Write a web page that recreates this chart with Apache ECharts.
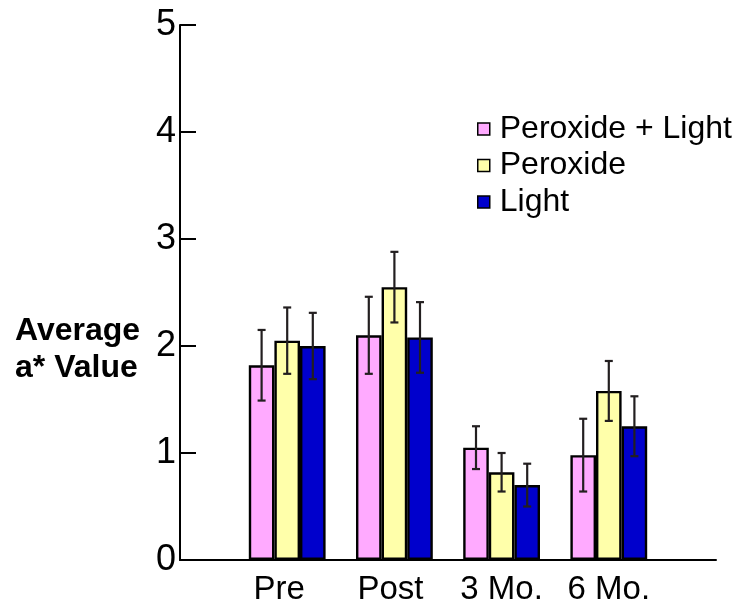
<!DOCTYPE html>
<html>
<head>
<meta charset="utf-8">
<script src="https://cdn.jsdelivr.net/npm/echarts@6/dist/echarts.min.js"></script>
<style>
  html, body { margin: 0; padding: 0; background: #fff; }
  #chart { width: 744px; height: 606px; }
</style>
</head>
<body>
<div id="chart"></div>
<script>
// Time points
const categories = ['Pre', 'Post', '3 Mo.', '6 Mo.'];
// Treatment groups
const seriesNames = ['Peroxide + Light', 'Peroxide', 'Light'];
// Mean a* values per time point
const peroxideLight = [1.82, 2.10, 1.05, 0.98];
const peroxide = [2.05, 2.55, 0.82, 1.58];
const light = [2.00, 2.08, 0.70, 1.25];
// Error (± half range) per time point
const peroxideLightErr = [0.33, 0.36, 0.20, 0.34];
const peroxideErr = [0.31, 0.33, 0.18, 0.28];
const lightErr = [0.31, 0.33, 0.20, 0.28];
// Y axis ticks
const yTicks = [0, 1, 2, 3, 4, 5];

const FONT = "'Liberation Sans', Arial, sans-serif";
const BAR_W = 25.6;
const colors = ['#ffaaff', '#ffffaa', '#0000cc'];
const means = [peroxideLight, peroxide, light];
const errs = [peroxideLightErr, peroxideErr, lightErr];

// Category axis padded with an empty slot on each side so groups sit on interior points
const axisData = [''].concat(categories, ['']);
const pad = arr => [null].concat(arr, [null]);

// Small leftward nudges for the first two category labels
const labelNudge = { 'Pre': 16, 'Post': 8 };
const labelRich = {};
categories.forEach((c, i) => {
  labelRich['c' + i] = { fontFamily: FONT, fontSize: 33, color: '#000', padding: [0, labelNudge[c] || 0, 0, 0] };
});

const barSeries = seriesNames.map((name, k) => ({
  name: name,
  type: 'bar',
  data: pad(means[k]),
  barWidth: BAR_W,
  barGap: '0%',
  itemStyle: { color: colors[k], borderColor: '#000', borderWidth: 2.4 },
  z: 2
}));

const errSeries = seriesNames.map((name, k) => ({
  name: name + ' error',
  type: 'custom',
  z: 5,
  data: means[k].map((v, i) => [i + 1, v, errs[k][i]]),
  renderItem: function (params, api) {
    const x = api.value(0), v = api.value(1), e = api.value(2);
    const hi = api.coord([x, v + e]);
    const lo = api.coord([x, v - e]);
    const cx = hi[0] + (k - 1) * BAR_W;
    const cap = 4;
    const style = { stroke: '#231f20', lineWidth: 2.2 };
    return {
      type: 'group',
      children: [
        { type: 'line', shape: { x1: cx, y1: hi[1], x2: cx, y2: lo[1] }, style: style },
        { type: 'line', shape: { x1: cx - cap, y1: hi[1], x2: cx + cap, y2: hi[1] }, style: style },
        { type: 'line', shape: { x1: cx - cap, y1: lo[1], x2: cx + cap, y2: lo[1] }, style: style }
      ]
    };
  }
}));

const chart = echarts.init(document.getElementById('chart'), null, { renderer: 'canvas' });
chart.setOption({
  animation: false,
  backgroundColor: '#fff',
  grid: { left: 180, right: 28, top: 25, bottom: 45.5, containLabel: false },
  legend: {
    orient: 'vertical',
    left: 472,
    top: 106,
    data: seriesNames,
    icon: 'rect',
    itemWidth: 12,
    itemHeight: 12,
    itemGap: 0.5,
    itemStyle: { borderColor: '#000', borderWidth: 1.5 },
    textStyle: { fontFamily: FONT, fontSize: 32, color: '#000', lineHeight: 36, padding: [0, 0, 0, 5] }
  },
  xAxis: {
    type: 'category',
    data: axisData,
    boundaryGap: false,
    axisLine: { lineStyle: { color: '#000', width: 2 } },
    axisTick: { show: false },
    axisLabel: {
      interval: 0, fontFamily: FONT, fontSize: 33, color: '#000', margin: 13,
      formatter: function (val) {
        const i = categories.indexOf(val);
        return i < 0 ? '' : '{c' + i + '|' + val + '}';
      },
      rich: labelRich
    },
    splitLine: { show: false }
  },
  yAxis: {
    type: 'value',
    min: yTicks[0],
    max: yTicks[yTicks.length - 1],
    interval: 1,
    axisLine: { show: true, lineStyle: { color: '#000', width: 2 } },
    axisTick: { show: true, inside: true, length: 16, lineStyle: { color: '#000', width: 2 } },
    axisLabel: { fontFamily: FONT, fontSize: 36, color: '#000', margin: 4, padding: [0, 0, 6, 0] },
    splitLine: { show: false }
  },
  graphic: [
    { type: 'text', left: 15, top: 315, style: { text: 'Average', font: "bold 32px 'Liberation Sans', Arial, sans-serif", fill: '#000' } },
    { type: 'text', left: 15, top: 352, style: { text: 'a* Value', font: "bold 32px 'Liberation Sans', Arial, sans-serif", fill: '#000' } }
  ],
  series: barSeries.concat(errSeries)
});
</script>
</body>
</html>
